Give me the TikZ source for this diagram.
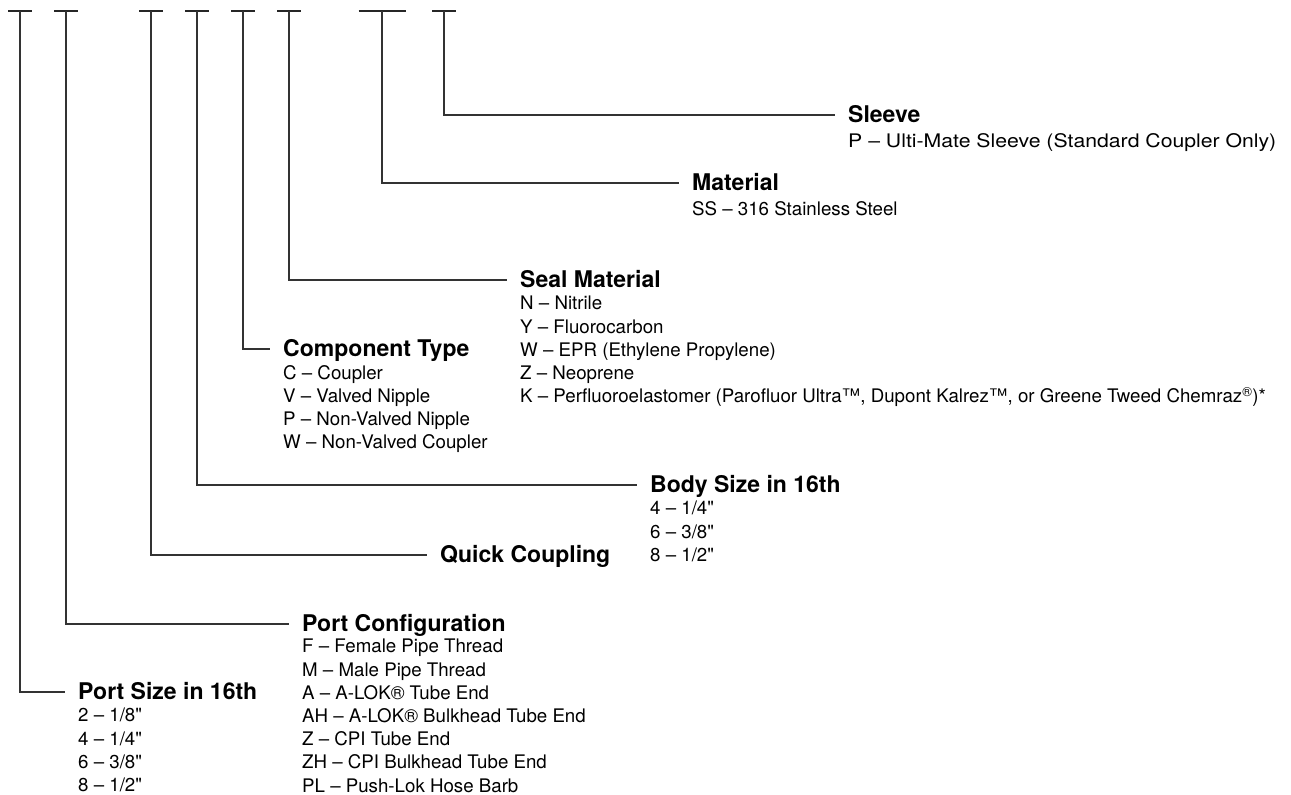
\documentclass[tikz,border=0pt]{standalone}
\usepackage{fontspec}
\setmainfont{TeX Gyre Heros}
\usetikzlibrary{positioning}

\begin{document}
\begin{tikzpicture}[
    x=1pt, y=-1pt,
    tick/.style={line width=2.4pt, draw=black!85},
    leg/.style={line width=1.8pt, draw=black!80, shorten >=13pt},
    heading/.style={
        anchor=west,
        inner sep=0pt,
        text height=15pt,
        text depth=0pt,
        font=\fontsize{23}{27}\selectfont\bfseries
    },
    items/.style={
        inner sep=0pt,
        align=left,
        font=\fontsize{18.7}{23.2}\selectfont,
        execute at begin node=\strut
    }
]
\useasboundingbox (0,0) rectangle (1291,795);

% Code slots
\foreach \x/\w [count=\i] in {20/24, 66/24, 151/24, 197/24, 243/24, 289/24, 382/47, 444/24} {
    \draw[tick] (\x-\w/2, 11) -- (\x+\w/2, 11);
    \coordinate (m\i) at (\x, 11);
}

% Sleeve
\node[heading] (sleeve) at (848, 115) {Sleeve};
\node[items, below=8.5pt of sleeve.base west, anchor=north west] (sleeveopt)
    {\scalebox{1.135}[1]{P – Ulti-Mate Sleeve (Standard Coupler Only)}};

% Material
\node[heading] (material) at (692, 183) {Material};
\node[items, below=8.5pt of material.base west, anchor=north west] (materialopt)
    {SS – 316 Stainless Steel};

% Seal material
\node[heading] (seal) at (520, 280) {Seal Material};
\node[items, below=8.5pt of seal.base west, anchor=north west] (sealopt)
    {N – Nitrile\\
     Y – Fluorocarbon\\
     W – EPR (Ethylene Propylene)\\
     Z – Neoprene\\
     K – Perfluoroelastomer (Parofluor Ultra™, Dupont Kalrez™, or Greene Tweed Chemraz\textsuperscript{®})*};

% Component type
\node[heading] (component) at (283, 349) {Component Type};
\node[items, below=8.5pt of component.base west, anchor=north west] (componentopt)
    {C – Coupler\\
     V – Valved Nipple\\
     P – Non-Valved Nipple\\
     W – Non-Valved Coupler};

% Body size
\node[heading] (body) at (650, 485) {Body Size in 16th};
\node[items, below=8.5pt of body.base west, anchor=north west] (bodyopt)
    {4 – 1/4\textquotedbl\\
     6 – 3/8\textquotedbl\\
     8 – 1/2\textquotedbl};

% Quick coupling
\node[heading] (quick) at (440, 555) {Quick Coupling};

% Port configuration
\node[heading] (portcfg) at (302, 624) {Port Configuration};
\node[items, below=7.5pt of portcfg.base west, anchor=north west] (portcfgopt)
    {F – Female Pipe Thread\\
     M – Male Pipe Thread\\
     A – A-LOK® Tube End\\
     AH – A-LOK® Bulkhead Tube End\\
     Z – CPI Tube End\\
     ZH – CPI Bulkhead Tube End\\
     PL – Push-Lok Hose Barb};

% Port size
\node[heading] (portsize) at (78, 692) {Port Size in 16th};
\node[items, below=8.5pt of portsize.base west, anchor=north west] (portsizeopt)
    {2 – 1/8\textquotedbl\\
     4 – 1/4\textquotedbl\\
     6 – 3/8\textquotedbl\\
     8 – 1/2\textquotedbl};

% Leader lines
\draw[leg] (m8) |- (sleeve.west);
\draw[leg] (m7) |- (material.west);
\draw[leg] (m6) |- (seal.west);
\draw[leg] (m5) |- (component.west);
\draw[leg] (m4) |- (body.west);
\draw[leg] (m3) |- (quick.west);
\draw[leg] (m2) |- (portcfg.west);
\draw[leg] (m1) |- (portsize.west);

\end{tikzpicture}
\end{document}
